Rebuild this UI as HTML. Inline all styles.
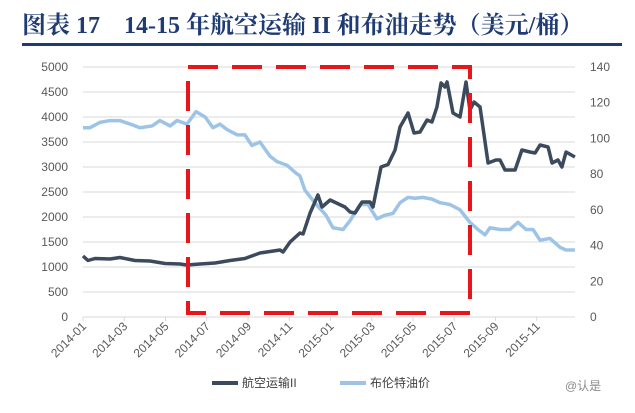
<!DOCTYPE html>
<html><head><meta charset="utf-8"><style>
body{margin:0;background:#fff;width:635px;height:408px;overflow:hidden;font-family:"Liberation Sans","Noto Sans CJK SC",sans-serif}
</style></head><body>
<svg width="635" height="408" id="chart">
<text x="22" y="33" font-family="'Liberation Serif','Noto Serif CJK SC',serif" font-weight="bold" font-size="24" fill="#1f3b73">图表 17　14-15 年航空运输 II 和布油走势（美元/桶）</text>
<rect x="22" y="43" width="600" height="3" fill="#1f3b73"/>
<g id="grid"></g><g id="axes"></g><g id="series"></g>
<rect x="188" y="67" width="282" height="246" fill="none" stroke="#e8161b" stroke-width="4" stroke-dasharray="30,14"/>
<g>
<line x1="212" y1="383" x2="238" y2="383" stroke="#3c4a5e" stroke-width="4"/>
<text x="242" y="387" font-size="12" fill="#404040">航空运输II</text>
<line x1="340" y1="383" x2="366" y2="383" stroke="#9dc3e6" stroke-width="4"/>
<text x="370" y="387" font-size="12" fill="#404040">布伦特油价</text>
</g>
<text x="565" y="390" font-size="12" fill="#8a8a8a">@认是</text>
</svg>
<script>
const leftTicks=[0,500,1000,1500,2000,2500,3000,3500,4000,4500,5000];
const rightTicks=[0,20,40,60,80,100,120,140];
const xLabels=["2014-01","2014-03","2014-05","2014-07","2014-09","2014-11","2015-01","2015-03","2015-05","2015-07","2015-09","2015-11"];
const airMonths=[0,.24,.58,1.31,1.79,2.52,3.25,3.98,4.70,5.04,5.67,6.40,7.13,7.85,8.58,9.55,9.70,10.04,10.52,10.67,11.01,11.39,11.59,11.98,12.70,12.95,13.19,13.53,13.92,14.06,14.45,14.79,15.13,15.37,15.76,16.05,16.34,16.68,16.92,17.16,17.36,17.55,17.65,17.94,18.28,18.57,18.76,18.96,19.25,19.64,20.02,20.22,20.46,20.95,21.28,21.67,21.92,22.16,22.55,22.74,23.03,23.22,23.42,23.85];
const airValues=[1220,1130,1170,1160,1190,1130,1120,1070,1060,1040,1060,1080,1130,1170,1280,1340,1300,1500,1680,1660,2080,2440,2200,2340,2200,2100,2080,2300,2300,2200,3000,3050,3340,3800,4080,3680,3700,3940,3900,4200,4680,4600,4700,4080,4000,4700,4140,4300,4200,3080,3140,3140,2940,2940,3340,3300,3280,3440,3400,3080,3140,3000,3300,3200];
const oilMonths=[0,.34,.82,1.31,1.79,2.42,2.76,3.35,3.73,4.22,4.56,5.04,5.48,5.92,6.30,6.64,6.98,7.47,7.85,8.19,8.58,9.07,9.41,9.89,10.28,10.52,10.76,11.10,11.39,11.78,12.12,12.61,12.95,13.43,13.82,14.25,14.64,15.03,15.37,15.76,16.10,16.48,16.92,17.31,17.79,18.28,18.76,19.15,19.49,19.73,20.22,20.70,21.09,21.48,21.82,22.16,22.64,23.13,23.42,23.85];
const oilValues=[106,106,109,110,110,107.5,106,107,110,107,110,108,115,112,106,108,105,102,102,96,98,90,87,85,81,79,71,66,62,57,50,49,54,63,63,55,57,58,64,67,66.5,67,66,64,63,60,53,49,46,50,49,49,53,49,49,43,44,39,37.5,37.5];
const NS="http://www.w3.org/2000/svg";
const X0=83,X1=578,Y0=317,Y1=67;
const xs=m=>X0+(X1-X0)*m/24;
const yl=v=>Y0-(Y0-Y1)*v/5000;
const yr=v=>Y0-(Y0-Y1)*v/140;
function mk(t,a,p){const e=document.createElementNS(NS,t);for(const k in a)e.setAttribute(k,a[k]);p.appendChild(e);return e;}
const grid=document.getElementById('grid'),axes=document.getElementById('axes'),ser=document.getElementById('series');
leftTicks.forEach(v=>{
 const l=mk('line',{x1:X0,x2:X1-3,y1:yl(v),y2:yl(v),stroke:'#d9d9d9','stroke-width':1},grid);
 
 
 const t=mk('text',{x:68,y:yl(v)+4,'text-anchor':'end','font-size':12,fill:'#595959'},axes);
 t.textContent=v;
 
 
});
rightTicks.forEach(v=>{
 const t=mk('text',{x:590,y:yr(v)+4,'font-size':12,fill:'#595959'},axes);
 t.textContent=v;
 
 
});
xLabels.forEach((s,i)=>{
 const x=xs(i*2);
 const tk=mk('line',{x1:x,x2:x,y1:Y0,y2:Y0+4,stroke:'#d9d9d9'},axes);
 
 
 const t=mk('text',{x:x+4,y:Y0+10,'text-anchor':'end','font-size':12,fill:'#595959',transform:`rotate(-45 ${x+4} ${Y0+10})`},axes);
 t.textContent=s;
 
 
});
const oilP=mk('polyline',{points:oilMonths.map((m,i)=>xs(m)+','+yr(oilValues[i])).join(' '),fill:'none',stroke:'#9dc3e6','stroke-width':3.5,'stroke-linejoin':'round'},ser);


const airP=mk('polyline',{points:airMonths.map((m,i)=>xs(m)+','+yl(airValues[i])).join(' '),fill:'none',stroke:'#3c4a5e','stroke-width':3.5,'stroke-linejoin':'round'},ser);


</script>
</body></html>
